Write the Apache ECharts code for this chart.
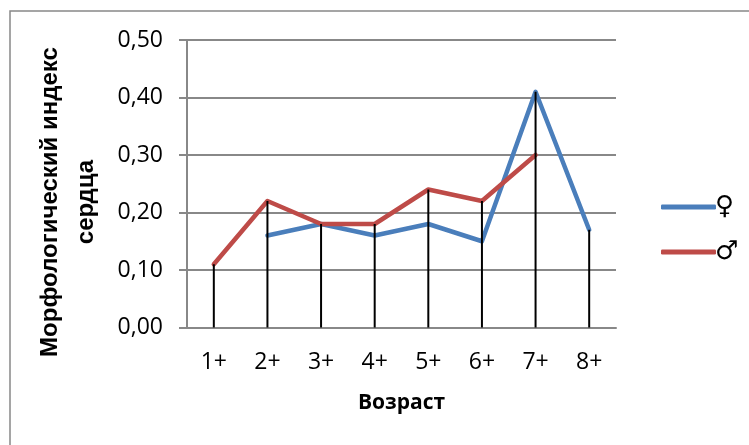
<!DOCTYPE html>
<html>
<head>
<meta charset="utf-8">
<script src="https://cdn.jsdelivr.net/npm/echarts@6/dist/echarts.min.js"></script>
<style>
html,body{margin:0;padding:0;background:#fff;}
#c{width:749px;height:445px;}
</style>
</head>
<body>
<div id="c"></div>
<script>
var categories = ['1+','2+','3+','4+','5+','6+','7+','8+'];
var female = [null, 0.16, 0.18, 0.16, 0.18, 0.15, 0.41, 0.17];
var male = [0.11, 0.22, 0.18, 0.18, 0.24, 0.22, 0.30, null];
var yTicks = [0, 0.1, 0.2, 0.3, 0.4, 0.5];
var seriesNames = ['\u2640', '\u2642'];
var yTitle1 = 'Морфологический индекс';
var yTitle2 = 'сердца';
var xTitle = 'Возраст';

var dropLines = categories.map(function(c, i){
  var a = female[i], b = male[i];
  if (a == null) return b;
  if (b == null) return a;
  return Math.max(a, b);
});

var gray = '#888888';
var chart = echarts.init(document.getElementById('c'), null, {renderer:'canvas'});
chart.setOption({
  animation: false,
  backgroundColor: '#ffffff',
  grid: {left: 187, right: 133, top: 40, bottom: 117.5, containLabel: false},
  xAxis: {
    type: 'category',
    data: categories,
    boundaryGap: true,
    axisLine: {lineStyle: {color: gray, width: 2}},
    axisTick: {show: false},
    axisLabel: {color: '#000', fontFamily: 'Open Sans', fontSize: 23, margin: 23},
    name: xTitle,
    nameLocation: 'middle',
    nameGap: 65,
    nameTextStyle: {color: '#000', fontFamily: 'Open Sans', fontWeight: 'bold', fontSize: 21}
  },
  yAxis: {
    type: 'value',
    min: yTicks[0],
    max: yTicks[yTicks.length-1],
    interval: 0.1,
    axisLine: {show: true, lineStyle: {color: gray, width: 2}},
    axisTick: {show: true, length: 8, lineStyle: {color: gray, width: 2}},
    splitLine: {lineStyle: {color: gray, width: 2}},
    axisLabel: {color: '#000', fontFamily: 'Open Sans', fontSize: 23, margin: 24,
      formatter: function(v){ return v.toFixed(2).replace('.', ','); }}
  },
  legend: {
    orient: 'vertical',
    left: 656,
    top: 189,
    itemWidth: 55,
    itemHeight: 5,
    itemGap: 19,
    icon: 'roundRect',
    data: seriesNames,
    textStyle: {color: '#000', fontFamily: 'DejaVu Sans', fontSize: 26, padding: [0,0,0,-6]}
  },
  graphic: [
    {type: 'rect', shape: {x: 10, y: 11, width: 800, height: 500},
     style: {fill: 'none', stroke: gray, lineWidth: 1.5}, silent: true, z: -1},
    {type: 'text', x: 50, y: 202, rotation: Math.PI/2,
     style: {text: yTitle1, fill: '#000', font: 'bold 24px "Liberation Sans", Arial, sans-serif', align: 'center', verticalAlign: 'middle'}},
    {type: 'text', x: 86, y: 202, rotation: Math.PI/2,
     style: {text: yTitle2, fill: '#000', font: 'bold 24px "Liberation Sans", Arial, sans-serif', align: 'center', verticalAlign: 'middle'}}
  ],
  series: [
    {name: seriesNames[0], type: 'line', data: female, showSymbol: false, symbol: 'none',
     connectNulls: false, z: 2,
     lineStyle: {color: '#4A7EBB', width: 4.5, cap: 'round', join: 'round'},
     itemStyle: {color: '#4A7EBB'}},
    {name: seriesNames[1], type: 'line', data: male, showSymbol: false, symbol: 'none',
     connectNulls: false, z: 3,
     lineStyle: {color: '#BE4B48', width: 4.5, cap: 'round', join: 'round'},
     itemStyle: {color: '#BE4B48'}},
    {name: 'drop', type: 'bar', data: dropLines, barWidth: 2, z: 5,
     itemStyle: {color: '#000'}, silent: true}
  ]
});
</script>
</body>
</html>
